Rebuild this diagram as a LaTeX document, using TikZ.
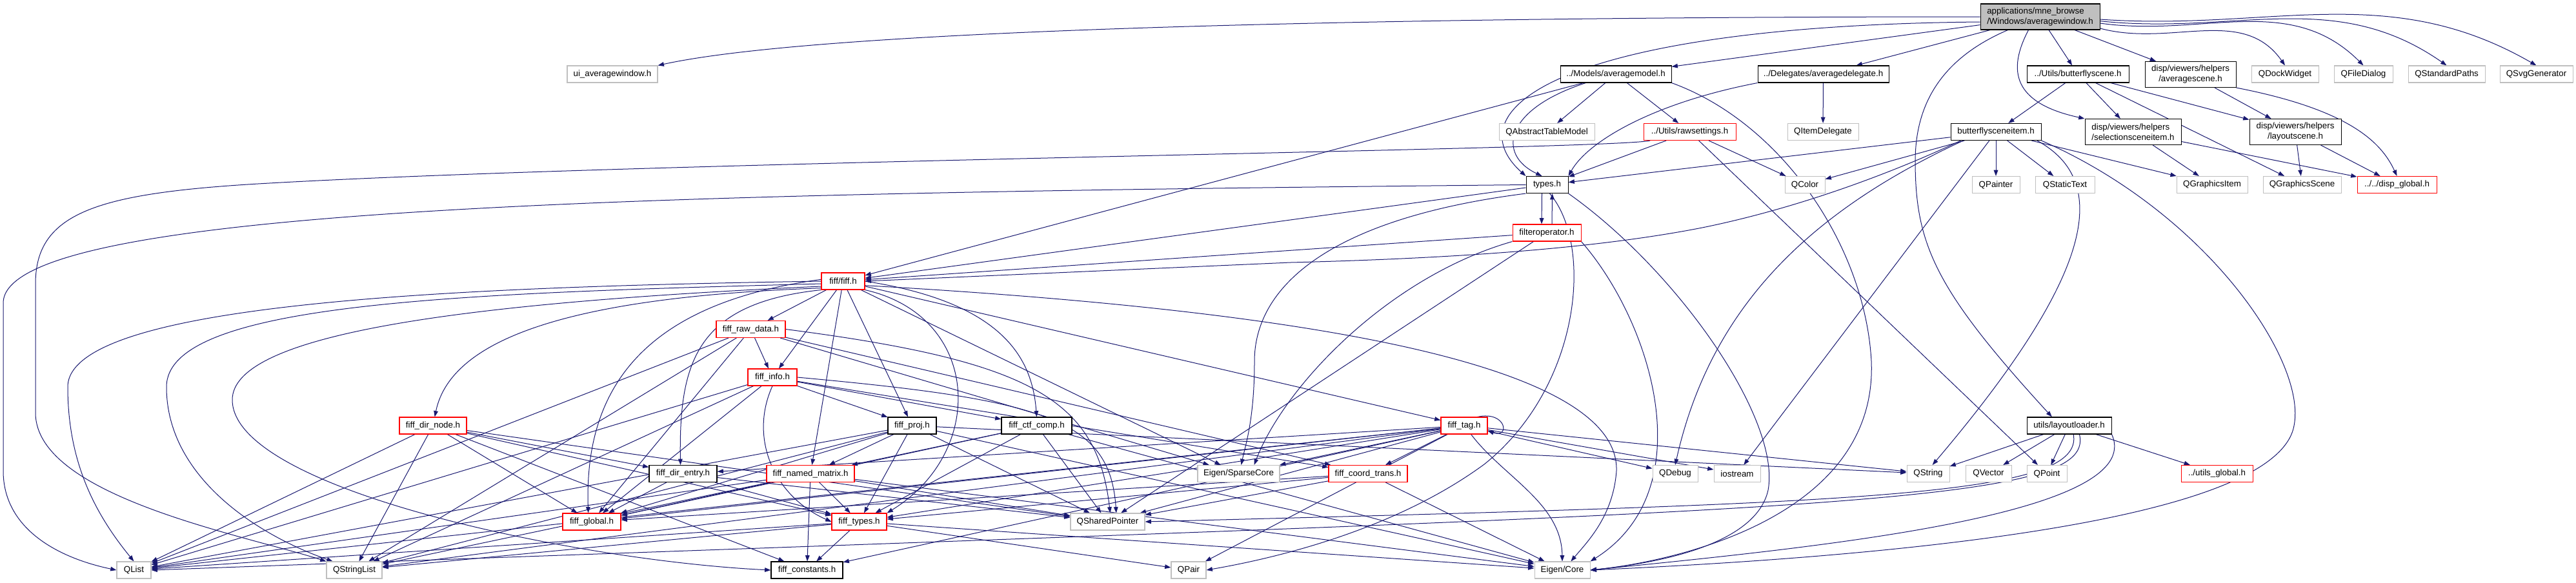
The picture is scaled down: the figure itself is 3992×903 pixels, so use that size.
\documentclass[tikz,border=0pt]{standalone}
\usepackage{fontspec}
\setmainfont{Liberation Sans}
\usetikzlibrary{arrows.meta}
\definecolor{edgec}{HTML}{191970}
\definecolor{grayb}{HTML}{BFBFBF}
\definecolor{redb}{HTML}{FF0000}
\pgfdeclarelayer{bg}
\pgfsetlayers{bg,main}
\tikzset{
  nd/.style={rectangle, inner sep=0pt, minimum height=19.5pt, fill=white, line width=0.8pt, font=\fontsize{10}{12}\selectfont},
  ext/.style={nd, draw=grayb},
  blk/.style={nd, draw=black},
  rnd/.style={nd, draw=redb},
  rootnd/.style={nd, draw=black, fill=grayb},
  wd/.style={minimum width=#1*0.75pt},
  two/.style={minimum height=30pt, align=center},
  ed/.style={draw=edgec, line width=0.75pt, -{Triangle[length=7pt,width=5pt]}},
}
\begin{document}
\begin{tikzpicture}[x=0.75pt,y=-0.75pt]
\useasboundingbox (0,0) rectangle (3992,903);
% row 1
\node[rootnd, wd=185, minimum height=30pt, align=left] (R) at (3161.5,26) {applications/mne\_browse\\/Windows/averagewindow.h};
% row 2
\node[ext, wd=140] (ui) at (949,115) {ui\_averagewindow.h};
\node[blk, wd=172] (am) at (2504,115) {../Models/averagemodel.h};
\node[blk, wd=203] (ad) at (2825.5,115) {../Delegates/averagedelegate.h};
\node[blk, wd=158] (bs) at (3220,115) {../Utils/butterflyscene.h};
\node[blk, wd=141, two] (as) at (3394.5,115.5) {disp/viewers/helpers\\/averagescene.h};
\node[ext, wd=104] (qdw) at (3541,115) {QDockWidget};
\node[ext, wd=91] (qfd) at (3662.5,115) {QFileDialog};
\node[ext, wd=119] (qsp) at (3791.5,115) {QStandardPaths};
\node[ext, wd=113] (qsvg) at (3930.5,115) {QSvgGenerator};
% row 3
\node[ext, wd=148] (qatm) at (2397,204.5) {QAbstractTableModel};
\node[rnd, wd=143] (rs) at (2618.5,204.5) {../Utils/rawsettings.h};
\node[ext, wd=110] (qid) at (2825,204.5) {QItemDelegate};
\node[blk, wd=140] (bsi) at (3093,204.5) {butterflysceneitem.h};
\node[blk, wd=149, two, align=left] (ssi) at (3305.5,204.5) {disp/viewers/helpers\\/selectionsceneitem.h};
\node[blk, wd=142, two] (ls) at (3557,204.5) {disp/viewers/helpers\\/layoutscene.h};
% row 4
\node[blk, wd=65] (types) at (2397.5,286.5) {types.h};
\node[ext, wd=62] (qcolor) at (2797,286.5) {QColor};
\node[ext, wd=74] (qpainter) at (3093,286.5) {QPainter};
\node[ext, wd=92] (qst) at (3200,286.5) {QStaticText};
\node[ext, wd=110] (qgi) at (3428,286.5) {QGraphicsItem};
\node[ext, wd=121] (qgs) at (3567.5,286.5) {QGraphicsScene};
\node[rnd, wd=123] (dglob) at (3714.5,286.5) {../../disp\_global.h};
% row 5
\node[rnd, wd=106] (filt) at (2397,361) {filteroperator.h};
% row 6
\node[rnd, wd=67] (fiff) at (1306.5,436) {fiff/fiff.h};
% row 7
\node[rnd, wd=107] (raw) at (1163.5,510.5) {fiff\_raw\_data.h};
% row 8
\node[rnd, wd=76] (info) at (1197,585) {fiff\_info.h};
% row 9
\node[rnd, wd=104] (dnode) at (671,660) {fiff\_dir\_node.h};
\node[blk, wd=75] (proj) at (1413.5,660) {fiff\_proj.h};
\node[blk, wd=109] (ctf) at (1606.5,660) {fiff\_ctf\_comp.h};
\node[rnd, wd=72] (tag) at (2269,660) {fiff\_tag.h};
\node[blk, wd=131] (loader) at (3206.5,660) {utils/layoutloader.h};
% row 10
\node[blk, wd=105] (dentry) at (1058.5,734.5) {fiff\_dir\_entry.h};
\node[rnd, wd=136] (nmat) at (1256,734.5) {fiff\_named\_matrix.h};
\node[ext, wd=127] (sparse) at (1919.5,734.5) {Eigen/SparseCore};
\node[rnd, wd=122] (coord) at (2120,734.5) {fiff\_coord\_trans.h};
\node[ext, wd=70] (qdebug) at (2596,734.5) {QDebug};
\node[ext, wd=72] (iostream) at (2692,734.5) {iostream};
\node[ext, wd=66] (qstring) at (2988,734.5) {QString};
\node[ext, wd=71] (qvector) at (3081.5,734.5) {QVector};
\node[ext, wd=62] (qpoint) at (3172,734.5) {QPoint};
\node[rnd, wd=111] (uglob) at (3435.5,734.5) {../utils\_global.h};
% row 11
\node[rnd, wd=90] (fglob) at (917,809) {fiff\_global.h};
\node[rnd, wd=85] (ftypes) at (1331.5,809) {fiff\_types.h};
\node[ext, wd=115] (qsp2) at (1716.5,809) {QSharedPointer};
% row 12
\node[ext, wd=53] (qlist) at (207.5,884) {QList};
\node[ext, wd=86] (qsl) at (549,884) {QStringList};
\node[blk, wd=111] (fconst) at (1250.5,884) {fiff\_constants.h};
\node[ext, wd=54] (qpair) at (1842,884) {QPair};
\node[ext, wd=86] (ecore) at (2421,884) {Eigen/Core};

\begin{pgfonlayer}{bg}
\foreach \s/\t in {R/am, R/ad, R/bs, R/as, am/qatm, am/rs, am/fiff, ad/qid, bs/bsi, bs/ssi, bs/ls, bs/qgs, as/ls, ssi/qgi, ssi/dglob, ls/qgs, ls/dglob, rs/types, rs/qcolor, rs/qpoint, bsi/types, bsi/qcolor, bsi/qpainter, bsi/qst, bsi/qgi, bsi/iostream, types/fiff, filt/fiff, filt/qsp2, fiff/raw, fiff/info, fiff/nmat, fiff/proj, fiff/tag, fiff/sparse, raw/info, raw/fglob, raw/qlist, raw/qsl, raw/sparse, raw/coord, info/proj, info/ctf, info/fglob, info/coord, info/qlist, info/qsl, dnode/dentry, dnode/fglob, dnode/ftypes, dnode/qlist, dnode/qsl, dnode/qsp2, dnode/fconst, dentry/fglob, dentry/ftypes, dentry/qsp2, nmat/fglob, nmat/ftypes, nmat/fconst, nmat/qsp2, nmat/ecore, nmat/qlist, nmat/qsl, proj/nmat, proj/fglob, proj/ftypes, proj/qsp2, proj/qlist, proj/qsl, proj/ecore, proj/qstring, ctf/nmat, ctf/fglob, ctf/ftypes, ctf/qsp2, ctf/ecore, coord/fglob, coord/ftypes, coord/ecore, coord/qsp2, tag/dentry, tag/fglob, tag/ftypes, tag/coord, tag/qsp2, tag/qlist, tag/qsl, tag/fconst, tag/qdebug, tag/iostream, tag/qstring, tag/sparse, tag/qpair, ftypes/fconst, ftypes/ecore, ftypes/qpair, ftypes/qlist, ftypes/qsl, loader/qstring, loader/qvector, loader/qpoint, loader/uglob}
  \draw[ed] (\s) -- (\t);
% root curves
\draw[ed] (R.west) .. controls (2300,26) and (1300,40) .. (ui.north east);
\draw[ed] ([yshift=-6pt]R.west) .. controls (2420,40) and (2250,170) .. (types.north west);
\draw[ed] ([yshift=-13.5pt]R.east) to[out=-15,in=125] (qdw.north);
\draw[ed] ([yshift=-7.5pt]R.east) to[out=-8,in=135] (qfd.north);
\draw[ed] ([yshift=-5pt]R.east) to[out=-6,in=145] (qsp.north);
\draw[ed] ([yshift=-3pt]R.east) to[out=-4,in=150] (qsvg.north);
\draw[ed] ([xshift=-13.5pt]R.south) .. controls (3110,110) and (3120,160) .. (ssi.north west);
\draw[ed] ([xshift=-37.5pt]R.south) .. controls (3010,90) and (2968,160) .. (2968,250) .. controls (2968,380) and (3000,450) .. ([xshift=-20pt]loader.north);
% model / delegate
\draw[ed] ([xshift=30pt]am.south west) .. controls (2330,170) and (2320,240) .. ([xshift=-6pt]types.north);
\draw[ed] (ad.south west) .. controls (2560,160) and (2460,220) .. (types.north east);
\draw[ed] (am.south east) .. controls (2760,190) and (2890,380) .. (2900,560) .. controls (2910,800) and (2600,870) .. (ecore.east);
\draw[ed] (as.south east) .. controls (3640,170) and (3690,220) .. (dglob.north);
% butterflysceneitem
\draw[ed] ([xshift=12pt]bsi.south west) .. controls (2950,260) and (2800,320) .. (2638,353) .. controls (2450,390) and (2200,402) .. (2000,407) -- (fiff.east);
\draw[ed] ([xshift=15pt]bsi.south west) .. controls (2800,330) and (2650,480) .. (qdebug.north);
\draw[ed] ([xshift=-5pt]bsi.south east) .. controls (3270,280) and (3250,420) .. ([xshift=5pt]qstring.north);
\draw[ed] (bsi.south east) .. controls (3420,330) and (3575,560) .. (3555,660) .. controls (3530,800) and (3000,860) .. (ecore.east);
% rawsettings / types far-left curves
\draw[ed] ([xshift=8pt]rs.south west) .. controls (2500,232) and (1000,250) .. (400,285) .. controls (150,300) and (55,330) .. (55,440) -- (55,640) .. controls (55,770) and (380,830) .. (qsl.north west);
\draw[ed] (types.west) .. controls (1000,300) and (5,320) .. (5,470) -- (5,730) .. controls (5,820) and (90,865) .. (qlist.west);
\draw[ed] ([xshift=-6pt]types.south) -- ([xshift=-6pt]filt.north);
\draw[ed] ([xshift=6pt]filt.north) -- ([xshift=6pt]types.south);
\draw[ed] (types.south west) .. controls (2050,340) and (1944,450) .. (1944,560) .. controls (1944,650) and (1930,690) .. ([xshift=3pt]sparse.north);
\draw[ed] (filt.south west) .. controls (2150,430) and (1990,600) .. ([xshift=18pt]sparse.north);
\draw[ed] (types.south east) .. controls (2600,420) and (2760,650) .. (2740,760) .. controls (2720,850) and (2550,875) .. (ecore.east);
\draw[ed] ([xshift=3pt]types.south) .. controls (2470,380) and (2450,600) .. (2300,720) .. controls (2150,830) and (1950,870) .. (qpair.east);
\draw[ed] (filt.south east) .. controls (2560,500) and (2640,760) .. (ecore.north east);
% fiff curves
\draw[ed] (fiff.west) .. controls (700,445) and (105,470) .. (105,600) .. controls (105,720) and (150,800) .. (qlist.north);
\draw[ed] ([yshift=-3pt]fiff.west) .. controls (700,455) and (258,470) .. (258,600) .. controls (258,740) and (400,830) .. ([xshift=-25pt]qsl.north);
\draw[ed] ([yshift=-6pt]fiff.west) .. controls (700,470) and (360,520) .. (360,620) .. controls (360,760) and (900,870) .. (fconst.west);
\draw[ed] ([yshift=-8pt]fiff.west) .. controls (900,460) and (700,520) .. ([xshift=2pt]dnode.north);
\draw[ed] (fiff.south west) .. controls (1080,470) and (1052,560) .. ([xshift=-3pt]dentry.north);
\draw[ed] ([yshift=2pt]fiff.west) .. controls (1000,470) and (905,600) .. ([xshift=-4pt]fglob.north);
\draw[ed] (fiff.south east) .. controls (1520,490) and (1530,700) .. (ftypes.north east);
\draw[ed] (fiff.east) .. controls (1560,470) and (1600,560) .. (ctf.north);
\draw[ed] ([yshift=-5pt]fiff.east) .. controls (2000,480) and (2510,560) .. (2505,730) .. controls (2500,800) and (2460,840) .. ([xshift=10pt]ecore.north);
\draw[ed] (raw.east) .. controls (1600,560) and (1700,620) .. ([xshift=3pt]qsp2.north);
\draw[ed] (info.east) .. controls (1620,620) and (1720,650) .. ([xshift=10pt]qsp2.north);
\draw[ed] (info.south) .. controls (1160,680) and (1200,770) .. (ftypes.west);
\draw[ed] ([xshift=8pt]tag.south) .. controls (2330,740) and (2420,780) .. (ecore.north);
\draw[ed] ([xshift=-12pt]tag.north east) .. controls +(45,-10) and +(35,12) .. ([yshift=-6pt]tag.east);
% layoutloader curves
\draw[ed] ([xshift=5pt]loader.south) .. controls (3230,770) and (2900,780) .. (qsp2.east);
\draw[ed] ([xshift=12pt]loader.south) .. controls (3250,790) and (2800,790) .. (qlist.east);
\draw[ed] (loader.south east) .. controls (3330,800) and (2800,850) .. (ecore.east);
\end{pgfonlayer}
\end{tikzpicture}
\end{document}
